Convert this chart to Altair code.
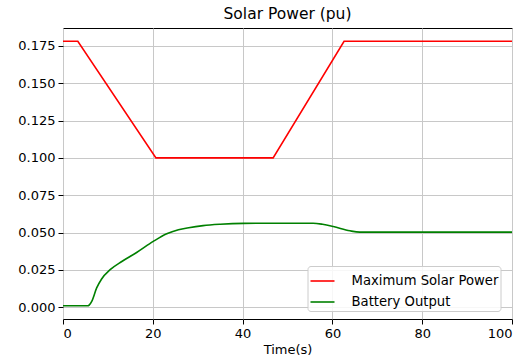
import altair as alt
import pandas as pd

# Maximum Solar Power (red)
red_t = [0, 3.3, 20.7, 46.8, 62.6, 100]
red_y = [0.178, 0.178, 0.100, 0.100, 0.178, 0.178]

# Battery Output (green)
green_t = [0, 5.5, 5.8, 6.4, 7.5, 8.6, 10.5, 13.1, 16.4, 20.1, 23.1, 25.7, 28.0, 31.2, 35.0, 40.2, 48.0, 55.7, 57.8, 60.2, 63.9, 66.1, 70.0, 100]
green_y = [0.0011, 0.0011, 0.0014, 0.0040, 0.0130, 0.0190, 0.0252, 0.0307, 0.0367, 0.0441, 0.0492, 0.0519, 0.0533, 0.0547, 0.0556, 0.0562, 0.0563, 0.0563, 0.0556, 0.0541, 0.0512, 0.0503, 0.0503, 0.0503]

series = ["Maximum Solar Power", "Battery Output"]
colors = ["#ff0000", "#008000"]
x_ticks = [0, 20, 40, 60, 80, 100]
y_ticks = [0.0, 0.025, 0.05, 0.075, 0.1, 0.125, 0.15, 0.175]

red_df = pd.DataFrame({"t": red_t, "v": red_y, "s": series[0], "o": range(len(red_t))})
green_df = pd.DataFrame({"t": green_t, "v": green_y, "s": series[1], "o": range(len(green_t))})

FONT = "DejaVu Sans"

x_enc = alt.X("t:Q", scale=alt.Scale(domain=[0, 100], nice=False, zero=False),
              axis=alt.Axis(values=x_ticks, title="Time(s)", format="d"))
y_enc = alt.Y("v:Q", scale=alt.Scale(domain=[-0.0078, 0.1869], nice=False, zero=False),
              axis=alt.Axis(values=y_ticks, title=None, format=".3f"))
c_enc = alt.Color("s:N", scale=alt.Scale(domain=series, range=colors),
                  legend=alt.Legend(title=None, orient="none", legendX=244.5, legendY=238,
                                    symbolType="stroke", symbolStrokeWidth=1.6, symbolSize=576,
                                    labelFont=FONT, labelFontSize=13.2, labelColor="#000000",
                                    fillColor="rgba(255,255,255,0.85)", strokeColor="#cccccc",
                                    cornerRadius=3, padding=2, rowPadding=1,
                                    labelOffset=16))

red = alt.Chart(red_df).mark_line(strokeWidth=1.6).encode(
    x=x_enc, y=y_enc, color=c_enc, order="o:Q")
green = alt.Chart(green_df).mark_line(strokeWidth=1.6, interpolate="monotone").encode(
    x=x_enc, y=y_enc, color=c_enc, order="o:Q")

chart = alt.layer(red, green).properties(
    width=449, height=291,
    title=alt.TitleParams("Solar Power (pu)", font=FONT, fontSize=15.5, fontWeight="normal",
                          color="#000000", offset=6),
    autosize=alt.AutoSizeParams(type="none"),
    padding={"left": 63, "top": 28, "right": 19, "bottom": 42},
).configure_view(
    stroke="#000000", strokeWidth=1
).configure_axis(
    labelFont=FONT, labelFontSize=13, labelColor="#000000",
    titleFont=FONT, titleFontSize=13, titleColor="#000000", titleFontWeight="normal",
    grid=True, gridColor="#c8c8c8", gridWidth=1,
    domain=False, tickColor="#000000", tickSize=5, labelPadding=3,
).configure_axisX(titlePadding=3)

chart.save("out.html", embed_options={"renderer": "svg", "actions": False})
